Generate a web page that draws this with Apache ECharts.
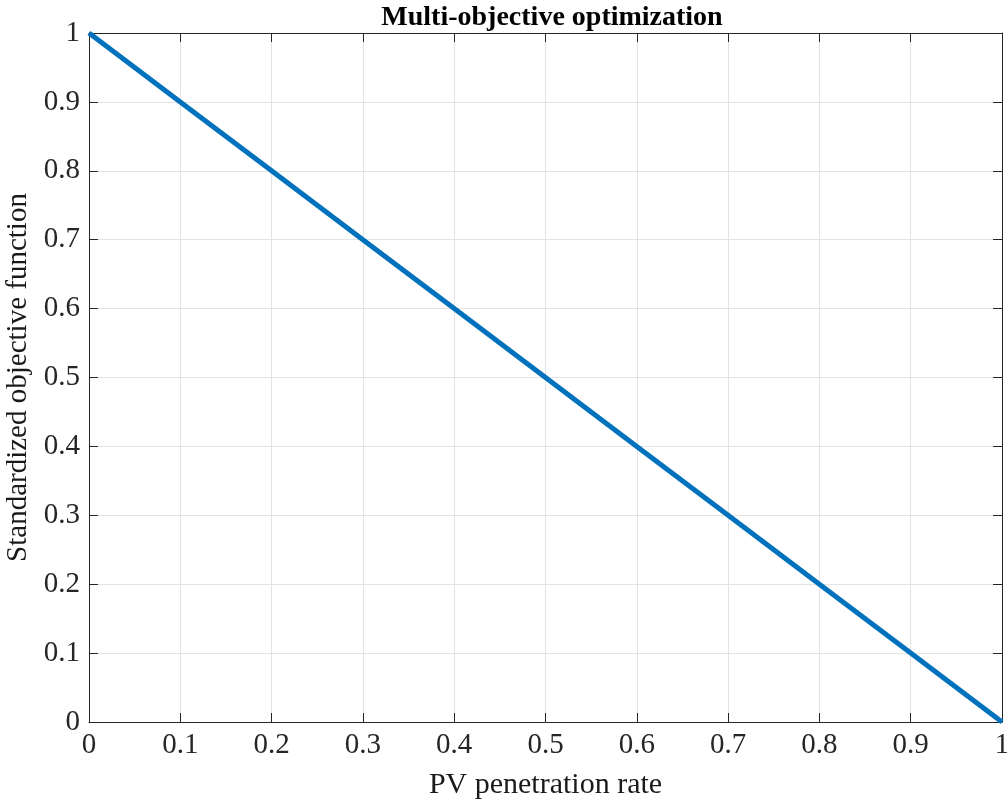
<!DOCTYPE html>
<html>
<head>
<meta charset="utf-8">
<script src="https://cdn.jsdelivr.net/npm/echarts@6/dist/echarts.min.js"></script>
<style>
  html, body { margin: 0; padding: 0; background: #fff; }
  #chart { width: 1007px; height: 803px; }
</style>
</head>
<body>
<div id="chart"></div>
<script>
// data
var penetration = [0, 0.1, 0.2, 0.3, 0.4, 0.5, 0.6, 0.7, 0.8, 0.9, 1];
var objective = [1, 0.9, 0.8, 0.7, 0.6, 0.5, 0.4, 0.3, 0.2, 0.1, 0];

var font = "'Liberation Serif', 'Times New Roman', serif";
var axisColor = "#262626";

var chart = echarts.init(document.getElementById("chart"));

function axisBase(extra) {
  return Object.assign({
    type: "value",
    min: 0,
    max: 1,
    interval: 0.1,
    axisLine: { show: true, onZero: false, lineStyle: { color: axisColor, width: 1 } },
    axisTick: { show: true, inside: true, length: 9, lineStyle: { color: axisColor } },
    splitLine: { show: false },
    axisLabel: { show: false }
  }, extra);
}

var option = {
  animation: false,
  backgroundColor: "#fff",
  title: {
    text: "Multi-objective optimization",
    left: 547,
    textAlign: "center",
    top: -1,
    textStyle: { fontFamily: font, fontWeight: "bold", fontSize: 28, color: "#000" }
  },
  grid: { left: 89, right: 5, top: 33, bottom: 81, containLabel: false, outerBoundsMode: "none" },
  xAxis: [
    axisBase({
      position: "bottom",
      name: "PV penetration rate",
      nameLocation: "middle",
      nameGap: 48,
      nameTextStyle: { fontFamily: font, fontSize: 30, color: "#1a1a1a" },
      splitLine: { show: true, lineStyle: { color: "#e3e3e3", width: 1 } },
      axisLabel: {
        show: true, margin: 9, color: "#262626", fontFamily: font, fontSize: 29,
        formatter: function (v) { return String(+v.toFixed(1)); }
      }
    }),
    axisBase({ position: "top" })
  ],
  yAxis: [
    axisBase({
      position: "left",
      name: "Standardized objective function",
      nameLocation: "middle",
      nameGap: 54,
      nameTextStyle: { fontFamily: font, fontSize: 29, color: "#1a1a1a" },
      splitLine: { show: true, lineStyle: { color: "#e3e3e3", width: 1 } },
      axisLabel: {
        show: true, margin: 9, color: "#262626", fontFamily: font, fontSize: 29,
        formatter: function (v) { return String(+v.toFixed(1)); }
      }
    }),
    axisBase({ position: "right" })
  ],
  series: [{
    type: "line",
    data: penetration.map(function (x, i) { return [x, objective[i]]; }),
    showSymbol: false,
    clip: false,
    lineStyle: { color: "#0072BD", width: 5 },
    z: 1
  }]
};

chart.setOption(option);
</script>
</body>
</html>
